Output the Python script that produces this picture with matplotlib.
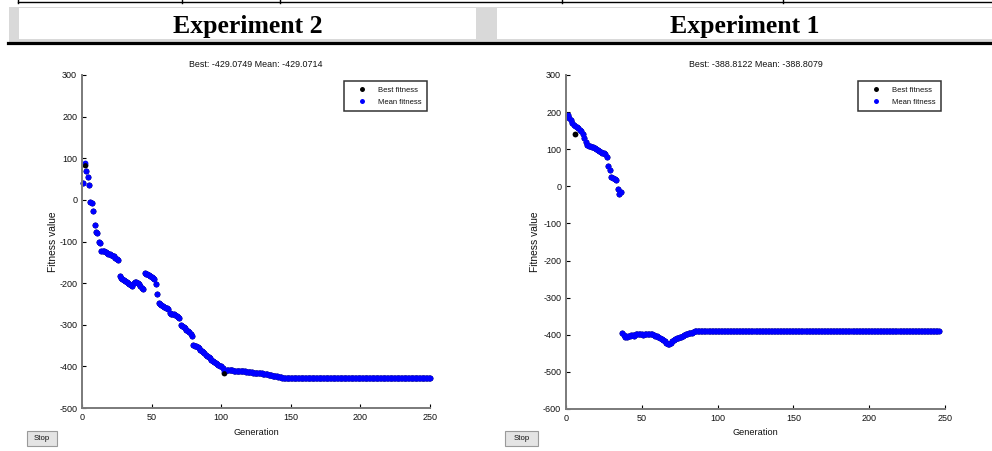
import numpy as np
import matplotlib
matplotlib.use('Agg')
import matplotlib.pyplot as plt
from matplotlib.patches import Rectangle
from matplotlib.lines import Line2D

# ---------------- data ----------------
panel_headers = ['Experiment 2', 'Experiment 1']
legend_labels = ['Best fitness', 'Mean fitness']
title_exp2 = 'Best: -429.0749 Mean: -429.0714'
title_exp1 = 'Best: -388.8122 Mean: -388.8079'
x_label = 'Generation'
y_label = 'Fitness value'
x_ticks = [0, 50, 100, 150, 200, 250]
y_ticks_exp2 = [-500, -400, -300, -200, -100, 0, 100, 200, 300]
y_ticks_exp1 = [-600, -500, -400, -300, -200, -100, 0, 100, 200, 300]

# Experiment 2: mean fitness per generation (1..250)
mean_exp2 = [
    41, 88, 69, 54, 35, -6, -8, -27, -61, -78,
    -80, -100, -103, -124, -124, -124, -125, -127, -129, -131,
    -133, -135, -136, -139, -142, -145, -184, -188, -190, -192,
    -195, -197, -199, -202, -204, -206, -200, -198, -198, -200,
    -203, -207, -211, -214, -176, -177, -179, -181, -183, -185,
    -187, -190, -202, -225, -247, -250, -252, -255, -257, -259,
    -260, -262, -272, -273, -274, -275, -277, -279, -281, -284,
    -300, -303, -306, -309, -312, -315, -318, -322, -326, -348,
    -350, -352, -354, -357, -360, -363, -366, -369, -372, -375,
    -378, -381, -384, -387, -390, -392, -394, -396, -398, -400,
    -403, -411, -410, -409, -409, -409, -409, -409, -410, -410,
    -410, -411, -411, -411, -412, -412, -412, -413, -413, -413,
    -414, -414, -415, -415, -415, -416, -416, -417, -417, -418,
    -418, -419, -419, -420, -420, -421, -422, -422, -423, -424,
    -425, -426, -426, -427, -427, -428, -428, -429, -429, -429,
    -429, -429, -429, -429, -429, -429, -429, -429, -429, -429,
    -429, -429, -429, -429, -429, -429, -429, -429, -429, -429,
    -429, -429, -429, -429, -429, -429, -429, -429, -429, -429,
    -429, -429, -429, -429, -429, -429, -429, -429, -429, -429,
    -429, -429, -429, -429, -429, -429, -429, -429, -429, -429,
    -429, -429, -429, -429, -429, -429, -429, -429, -429, -429,
    -429, -429, -429, -429, -429, -429, -429, -429, -429, -429,
    -429, -429, -429, -429, -429, -429, -429, -429, -429, -429,
    -429, -429, -429, -429, -429, -429, -429, -429, -429, -429,
    -429, -429, -429, -429, -429, -429, -429, -429, -429, -429,
]
# Best fitness coincides with the mean except where black dots show
best_exp2_visible = {2: 83, 102: -417}

# Experiment 1: mean fitness per generation (1..246)
mean_exp1 = [
    191, 185, 178, 170, 164, 162, 161, 157, 153, 148,
    140, 131, 119, 112, 110, 108, 107, 105, 103, 100,
    98, 96, 93, 91, 89, 87, 79, 56, 44, 24,
    22, 20, 17, -7, -22, -16, -394, -400, -405, -406,
    -402, -403, -401, -400, -402, -398, -398, -397, -399, -397,
    -401, -398, -397, -398, -398, -399, -398, -400, -402, -403,
    -406, -408, -412, -415, -418, -421, -424, -425, -421, -417,
    -414, -412, -410, -408, -406, -405, -403, -401, -399, -397,
    -396, -395, -394, -392, -391, -390, -389, -389, -389, -389,
    -389, -389, -389, -389, -389, -389, -389, -389, -389, -389,
    -389, -389, -389, -389, -389, -389, -389, -389, -389, -389,
    -389, -389, -389, -389, -389, -389, -389, -389, -389, -389,
    -389, -389, -389, -389, -389, -389, -389, -389, -389, -389,
    -389, -389, -389, -389, -389, -389, -389, -389, -389, -389,
    -389, -389, -389, -389, -389, -389, -389, -389, -389, -389,
    -389, -389, -389, -389, -389, -389, -389, -389, -389, -389,
    -389, -389, -389, -389, -389, -389, -389, -389, -389, -389,
    -389, -389, -389, -389, -389, -389, -389, -389, -389, -389,
    -389, -389, -389, -389, -389, -389, -389, -389, -389, -389,
    -389, -389, -389, -389, -389, -389, -389, -389, -389, -389,
    -389, -389, -389, -389, -389, -389, -389, -389, -389, -389,
    -389, -389, -389, -389, -389, -389, -389, -389, -389, -389,
    -389, -389, -389, -389, -389, -389, -389, -389, -389, -389,
    -389, -389, -389, -389, -389, -389, -389, -389, -389, -389,
    -389, -389, -389, -389, -389, -389,
]
best_exp1_visible = {6: 141}

# ---------------- figure ----------------
W, H = 992, 451
SANS = ['Liberation Sans', 'DejaVu Sans']
plt.rcParams['font.family'] = SANS

fig = plt.figure(figsize=(W / 100, H / 100), dpi=100)
fig.patch.set_facecolor('white')


def fx(x):
    return x / W


def fy(y):
    return 1 - y / H


def frect(x0, y0, x1, y1, **kw):
    fig.add_artist(Rectangle((fx(x0), fy(y1)), (x1 - x0) / W, (y1 - y0) / H,
                             transform=fig.transFigure, **kw))


def fline(xs, ys, **kw):
    fig.add_artist(Line2D([fx(x) for x in xs], [fy(y) for y in ys],
                          transform=fig.transFigure, **kw))


# document table fragments
fline([18, 992], [2.3, 2.3], color='black', lw=1.0)
for xv in [18, 182, 280, 562, 783]:
    fline([xv, xv], [0, 3], color='black', lw=1.0)
frect(9, 6.7, 992, 41.7, fc='#d9d9d9', ec='none')
frect(19, 8.3, 476, 39.3, fc='white', ec='none')
frect(497, 8.3, 992, 39.3, fc='white', ec='none')
fline([8.3, 992], [43.3, 43.3], color='black', lw=2.3)
fig.text(fx(248), fy(32.5), panel_headers[0], ha='center', va='baseline',
         fontsize=18.5, fontweight='bold', family='Liberation Serif')
fig.text(fx(745), fy(32.5), panel_headers[1], ha='center', va='baseline',
         fontsize=18.5, fontweight='bold', family='Liberation Serif')


def make_panel(rect_px, ylabel_x_px, mean, best_vis, yticks, title):
    x0, y0, x1, y1 = rect_px
    ax = fig.add_axes([fx(x0), fy(y1), (x1 - x0) / W, (y1 - y0) / H])
    gens = np.arange(1, len(mean) + 1)
    best = list(mean)
    for g, v in best_vis.items():
        best[g - 1] = v
    ax.plot(gens, best, linestyle='none', marker='o', ms=4.2, mew=0,
            color='black', label=legend_labels[0], clip_on=False)
    ax.plot(gens, mean, linestyle='none', marker='o', ms=4.2, mew=0,
            color='#0000ff', label=legend_labels[1], clip_on=False)
    # visible best points drawn on top
    bg = list(best_vis.keys())
    ax.plot(bg, [best[g - 1] for g in bg], linestyle='none', marker='o',
            ms=3.4, mew=0, color='black', clip_on=False)
    ax.set_xlim(0, 250)
    ax.set_ylim(yticks[0], yticks[-1])
    ax.set_xticks(x_ticks)
    ax.set_yticks(yticks)
    ax.set_yticklabels([str(t) for t in yticks])
    for s in ['top', 'right']:
        ax.spines[s].set_visible(False)
    for s in ['left', 'bottom']:
        ax.spines[s].set_color('#7a7a7a')
        ax.spines[s].set_linewidth(1.4)
    ax.tick_params(direction='in', length=3, width=0.8, color='black',
                   labelsize=6.5, pad=3.5, labelcolor='#111111')
    ax.set_title(title, fontsize=6.4, pad=5.5, color='#111111')
    ax.set_xlabel(x_label, fontsize=6.6, color='#111111')
    ax.xaxis.set_label_coords(0.5, -(428.3 - y1) / (y1 - y0))
    ax.set_ylabel(y_label, fontsize=7.4, color='#111111')
    ax.yaxis.set_label_coords(-(x0 - ylabel_x_px) / (x1 - x0), 0.5)
    return ax


axL = make_panel((82, 75, 430, 408), 58, mean_exp2, best_exp2_visible,
                 y_ticks_exp2, title_exp2)
axR = make_panel((566, 75, 945, 409), 540, mean_exp1, best_exp1_visible,
                 y_ticks_exp1, title_exp1)

for ax, (bx, by) in [(axL, (0.9914, 0.9829)), (axR, (0.9894, 0.9829))]:
    h = ax.get_lines()[:2]
    leg = ax.legend(h, legend_labels, loc='upper right', bbox_to_anchor=(bx, by),
                    borderaxespad=0, fancybox=False, frameon=True,
                    fontsize=5.5, handlelength=3.4, handletextpad=0.3,
                    borderpad=0.75, labelspacing=0.6, markerscale=0.85)
    leg.get_frame().set_edgecolor('black')
    leg.get_frame().set_linewidth(1.1)
    for t in leg.get_texts():
        t.set_color('#111111')

# Stop buttons
for (bx0, bx1) in [(26.7, 56.7), (505, 538.3)]:
    frect(bx0, 431, bx1, 445.7, fc='#e4e4e4', ec='#9a9a9a', lw=0.8)
    fig.text(fx((bx0 + bx1) / 2), fy(438.5), 'Stop', ha='center', va='center',
             fontsize=5.6, color='#111111')

fig.savefig('out.png', dpi=100, facecolor='white')
